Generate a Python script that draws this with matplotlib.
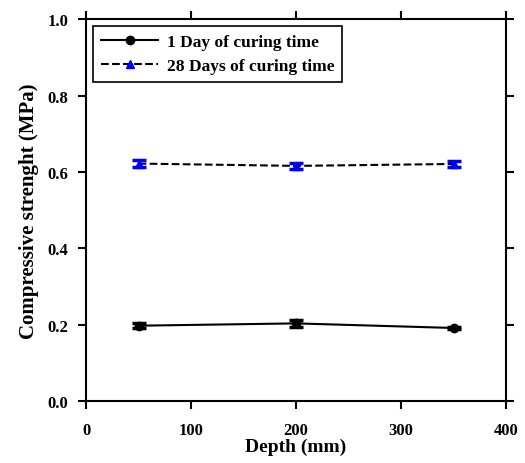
import numpy as np
import matplotlib
matplotlib.use("Agg")
import matplotlib.pyplot as plt
from matplotlib.lines import Line2D

plt.rcParams['font.family'] = ['Liberation Serif', 'DejaVu Serif']
plt.rcParams['font.weight'] = 'bold'

depth = [50, 200, 350]
day1 = [0.197, 0.203, 0.191]
day1_err = [0.007, 0.009, 0.003]
day28 = [0.622, 0.616, 0.621]
day28_err = [0.009, 0.007, 0.008]

fig = plt.figure(figsize=(5.25, 4.64), dpi=100)
ax = fig.add_axes([0.164, 0.134, 0.800, 0.822])

ax.errorbar(depth, day1, yerr=day1_err, color='black', marker='o', markersize=6,
            linestyle='-', linewidth=1.5, ecolor='black', elinewidth=2,
            capsize=5, capthick=2.5)
ax.errorbar(depth, day28, yerr=day28_err, color='black', marker='^', markersize=6,
            markerfacecolor='blue', markeredgecolor='blue',
            linestyle='--', linewidth=1.5, ecolor='blue', elinewidth=2,
            capsize=5, capthick=2.5)

ax.set_xlim(0, 400)
ax.set_ylim(0, 1.0)
ax.set_xticks([0, 100, 200, 300, 400])
ax.set_yticks([0.0, 0.2, 0.4, 0.6, 0.8, 1.0])
ax.set_yticklabels(['0.0', '0.2', '0.4', '0.6', '0.8', '1.0'])
ax.tick_params(direction='out', length=6, width=1.5, labelsize=12,
               top=True, right=True, labeltop=False, labelright=False)
ax.tick_params(axis='x', pad=9)
ax.tick_params(axis='y', pad=7)
for s in ax.spines.values():
    s.set_linewidth(1.5)

ax.set_xlabel('Depth (mm)', fontsize=14, fontweight='bold', labelpad=0)
ax.set_ylabel('Compressive strenght (MPa)', fontsize=15, fontweight='bold', labelpad=6)

handles = [
    Line2D([], [], color='black', linestyle='-', linewidth=1.5, marker='o', markersize=6),
    Line2D([], [], color='black', linestyle='--', linewidth=1.5, marker='^', markersize=6,
           markerfacecolor='blue', markeredgecolor='blue'),
]
labels = ['1 Day of curing time', '28 Days of curing time']
leg = ax.legend(handles, labels, loc='upper left', fontsize=12.5, fancybox=False, framealpha=1,
                edgecolor='black', borderaxespad=0.4, handlelength=3.3, handletextpad=0.5,
                labelspacing=0.45, borderpad=0.45)
leg.get_frame().set_linewidth(1.2)

fig.savefig('out.png', dpi=100)
